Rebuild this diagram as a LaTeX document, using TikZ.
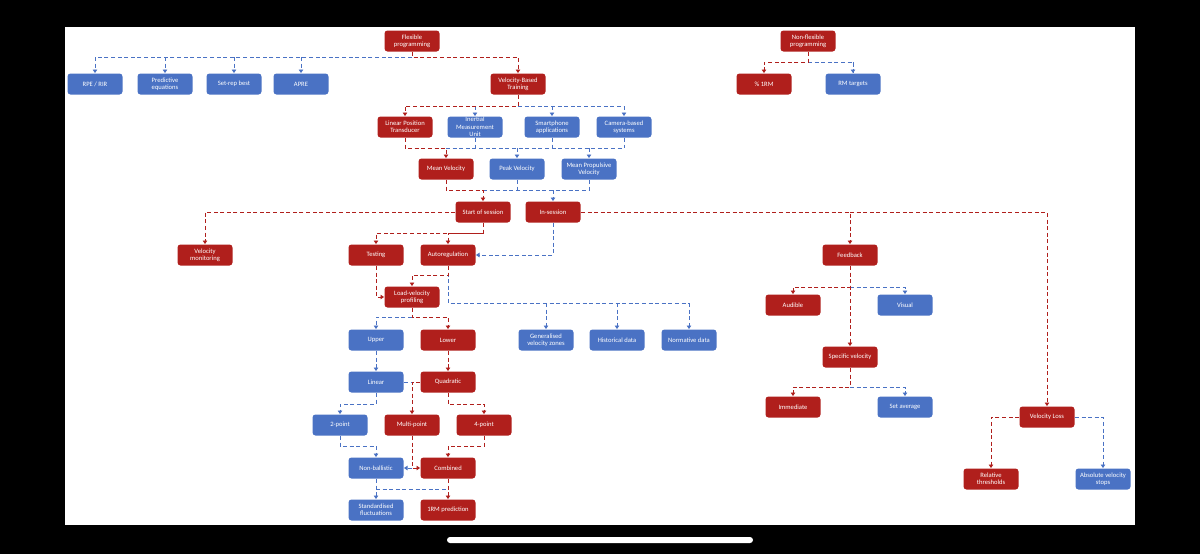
\documentclass[tikz,border=0pt]{standalone}
\usepackage{fontspec}
\setmainfont{Carlito}
\usetikzlibrary{arrows.meta}
\definecolor{rd}{HTML}{B01F1C}
\definecolor{bu}{HTML}{4A72C4}
\begin{document}
\begin{tikzpicture}[x=0.5pt,y=-0.5pt,
 box/.style={rounded corners=1.5pt,minimum width=27.5pt,minimum height=10.5pt,inner sep=0.3pt,align=center,text=white,font=\fontsize{3.3}{3.7}\selectfont},
 rb/.style={box,fill=rd},
 bb/.style={box,fill=bu},
 ln/.style={dashed,dash pattern=on 2pt off 1.3pt,line width=0.5pt},
 rn/.style={ln,draw=rd},
 bn/.style={ln,draw=bu},
 rl/.style={rn,-{Triangle[width=2.2pt,length=1.8pt]}},
 bl/.style={bn,-{Triangle[width=2.2pt,length=1.8pt]}}]
\fill[black] (0,0) rectangle (1200,554);
\fill[white] (65,27) rectangle (1135,525);
\fill[white,rounded corners=1.5pt] (447,537) rectangle (753,543);
% levels
\coordinate (b1) at (0,57); \coordinate (b2) at (0,106); \coordinate (b3) at (0,148);
\coordinate (b4) at (0,190); \coordinate (b5) at (0,233); \coordinate (b6) at (0,275);
\coordinate (b7) at (0,303); \coordinate (b8) at (0,317); \coordinate (b9) at (0,404);
\coordinate (b10) at (0,446); \coordinate (b11) at (0,489); \coordinate (f1) at (0,287);
\coordinate (f2) at (0,387); \coordinate (n1) at (0,62);
% nodes
\node[rb] (flex) at (412,41) {Flexible\\programming};
\node[rb] (nf) at (808,41) {Non-flexible\\programming};
\node[bb] (rpe) at (95,84) {RPE / RIR};
\node[bb] (pred) at (165,84) {Predictive\\equations};
\node[bb] (setrep) at (234,84) {Set-rep best};
\node[bb] (apre) at (301,84) {APRE};
\node[rb] (vbt) at (518,84) {Velocity-Based\\Training};
\node[rb] (pct) at (764,84) {\% 1RM};
\node[bb] (rmt) at (853,84) {RM targets};
\node[rb] (lpt) at (405,127) {Linear Position\\Transducer};
\node[bb] (imu) at (475,127) {Inertial\\Measurement\\Unit};
\node[bb] (sp) at (552,127) {Smartphone\\applications};
\node[bb] (cam) at (624,127) {Camera-based\\systems};
\node[rb] (mv) at (446,169) {Mean Velocity};
\node[bb] (pv) at (517,169) {Peak Velocity};
\node[bb] (mpv) at (589,169) {Mean Propulsive\\Velocity};
\node[rb] (start) at (483,212) {Start of session};
\node[rb] (ins) at (553,212) {In-session};
\node[rb] (vm) at (205,255) {Velocity\\monitoring};
\node[rb] (test) at (376,255) {Testing};
\node[rb] (auto) at (448,255) {Autoregulation};
\node[rb] (fb) at (850,255) {Feedback};
\node[rb] (lvp) at (412,297) {Load-velocity\\profiling};
\node[rb] (aud) at (793,305) {Audible};
\node[bb] (vis) at (905,305) {Visual};
\node[bb] (upper) at (376,340) {Upper};
\node[rb] (lower) at (448,340) {Lower};
\node[bb] (gen) at (546,340) {Generalised\\velocity zones};
\node[bb] (hist) at (617,340) {Historical data};
\node[bb] (norm) at (689,340) {Normative data};
\node[rb] (spec) at (850,357) {Specific velocity};
\node[bb] (linear) at (376,382) {Linear};
\node[rb] (quad) at (448,382) {Quadratic};
\node[rb] (imm) at (793,407) {Immediate};
\node[bb] (setavg) at (905,407) {Set average};
\node[bb] (two) at (340,425) {2-point};
\node[rb] (multi) at (412,425) {Multi-point};
\node[rb] (four) at (484,425) {4-point};
\node[rb] (vl) at (1047,417) {Velocity Loss};
\node[bb] (nb) at (376,468) {Non-ballistic};
\node[rb] (comb) at (448,468) {Combined};
\node[rb] (rel) at (991,479) {Relative\\thresholds};
\node[bb] (abs) at (1103,479) {Absolute velocity\\stops};
\node[bb] (std) at (376,510) {Standardised\\fluctuations};
\node[rb] (rm) at (448,510) {1RM prediction};
% connectors
\draw[bn] (flex.south|-b1) -- (rpe.north|-b1);
\foreach \n in {rpe,pred,setrep,apre} \draw[bl] (\n.north|-b1) -- (\n.north);
\draw[rl] (flex.south) -- (flex.south|-b1) -| (vbt.north);
\draw[bn] (nf.south|-n1) -| (rmt.north);
\draw[bl] (rmt.north|-n1) -- (rmt.north);
\draw[rl] (nf.south) -- (nf.south|-n1) -| (pct.north);
\draw[bn] (vbt.south|-b2) -- (cam.north|-b2);
\foreach \n in {imu,sp,cam} \draw[bl] (\n.north|-b2) -- (\n.north);
\draw[rl] (vbt.south) -- (vbt.south|-b2) -| (lpt.north);
\foreach \n in {imu,sp,cam} \draw[bn] (\n.south) -- (\n.south|-b3);
\draw[bn] (mv.north|-b3) -- (cam.south|-b3);
\foreach \n in {pv,mpv} \draw[bl] (\n.north|-b3) -- (\n.north);
\draw[rl] (lpt.south) -- (lpt.south|-b3) -| (mv.north);
\foreach \n in {pv,mpv} \draw[bn] (\n.south) -- (\n.south|-b4);
\draw[bn] (start.north|-b4) -- (mpv.south|-b4);
\draw[bl] (ins.north|-b4) -- (ins.north);
\draw[rl] (mv.south) -- (mv.south|-b4) -| (start.north);
\draw[rl] (start.west) -| (vm.north);
\draw[rl] (start.south) -- (start.south|-b5) -| (test.north);
\draw[rl] (start.south|-b5) -| (auto.north);
\draw[rl] (ins.east) -| (fb.north);
\draw[rl] (fb.north|-ins.east) -| (vl.north);
\draw[bl] (ins.south) |- (auto.east);
\draw[rl] (test.south) |- (lvp.west);
\draw[bn] (auto.south) -- (auto.south|-b7) -- (norm.north|-b7);
\foreach \n in {gen,hist,norm} \draw[bl] (\n.north|-b7) -- (\n.north);
\draw[rl] (auto.south) -- (auto.south|-b6) -| (lvp.north);
\draw[bl] (lvp.south|-b8) -| (upper.north);
\draw[rl] (lvp.south) -- (lvp.south|-b8) -| (lower.north);
\draw[bl] (upper) -- (linear);
\draw[rl] (lower) -- (quad);
\draw[bn] (linear.east) -- (multi.north|-linear.east);
\draw[rl] (quad.west) -| (multi.north);
\draw[bl] (linear.south) -- (linear.south|-b9) -| (two.north);
\draw[rl] (quad.south) -- (quad.south|-b9) -| (four.north);
\draw[bl] (two.south) -- (two.south|-b10) -| (nb.north);
\draw[rl] (four.south) -- (four.south|-b10) -| (comb.north);
\draw[bl] (multi.south|-comb.west) -- (nb.east);
\draw[rl] (multi.south) |- (comb.west);
\draw[bn] (nb.south|-b11) -- (comb.south|-b11);
\draw[bl] (nb) -- (std);
\draw[rl] (comb) -- (rm);
\draw[bl] (fb.south|-f1) -| (vis.north);
\draw[rl] (fb.south) -- (fb.south|-f1) -| (aud.north);
\draw[rl] (fb) -- (spec);
\draw[bl] (spec.south|-f2) -| (setavg.north);
\draw[rl] (spec.south) -- (spec.south|-f2) -| (imm.north);
\draw[rl] (vl.west) -| (rel.north);
\draw[bl] (vl.east) -| (abs.north);
\end{tikzpicture}
\end{document}
